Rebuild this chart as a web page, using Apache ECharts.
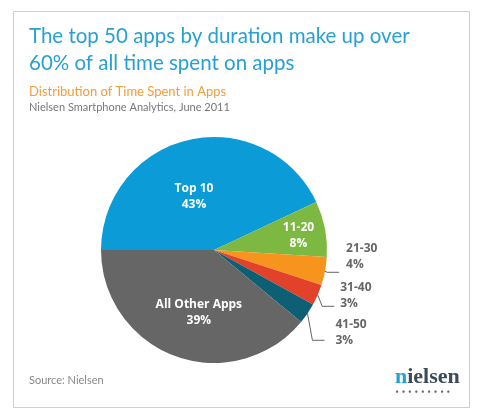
<!DOCTYPE html>
<html>
<head>
<meta charset="utf-8">
<script src="https://cdn.jsdelivr.net/npm/echarts@6/dist/echarts.min.js"></script>
<style>
  html, body { margin: 0; padding: 0; background: #fff; }
  #main { width: 489px; height: 417px; }
</style>
</head>
<body>
<div id="main"></div>
<script>
    // 数据
    var categories = ['Top 10', '11-20', '21-30', '31-40', '41-50', 'All Other Apps'];
    var shares = [43, 8, 4, 3, 3, 39];
    var colors = ['#0b9bd7', '#7cb842', '#f7941e', '#e2412a', '#0d5f74', '#666666'];
    var insideLabel = [true, true, false, false, false, true];

    var myChart = echarts.init(document.getElementById('main'));

    var pieData = categories.map(function (name, i) {
        var item = { name: name, value: shares[i], itemStyle: { color: colors[i] } };
        if (insideLabel[i]) {
            item.label = { position: 'inside', color: '#fff', fontWeight: 'bold', fontSize: 12, lineHeight: 16 };
            item.labelLine = { show: false };
        }
        return item;
    });

    // 标签微调
    var labelShift = {
        0: { dx: -7, dy: 5 },
        1: { dx: 26, dy: -3 },
        2: { dx: 2, dy: -16 },
        3: { dx: 1, dy: -11 },
        4: { dx: 6, dy: -8 },
        5: { dx: 5, dy: 7 }
    };

    var option = {
        backgroundColor: '#fff',
        textStyle: { fontFamily: 'Open Sans' },
        title: [{
            text: 'The top 50 apps by duration make up over\n60% of all time spent on apps',
            left: 24, top: 18,
            textStyle: { color: '#27a1d3', fontFamily: 'Lato', fontSize: 20.5, fontWeight: 'normal', lineHeight: 27 }
        }, {
            text: 'Distribution of Time Spent in Apps',
            left: 24, top: 80,
            textStyle: { color: '#f29d3c', fontFamily: 'Lato', fontSize: 13, fontWeight: 'normal' }
        }, {
            text: 'Nielsen Smartphone Analytics, June 2011',
            left: 24, top: 97,
            textStyle: { color: '#777', fontFamily: 'Lato', fontSize: 11, fontWeight: 'normal' }
        }, {
            text: 'Source: Nielsen',
            left: 24, top: 370,
            textStyle: { color: '#888', fontFamily: 'Lato', fontSize: 11, fontWeight: 'normal' }
        }, {
            text: '{n|n}{r|ielsen}\n{d|• • • • • • • • •}',
            left: 390, top: 361,
            textStyle: {
                rich: {
                    n: { fontFamily: 'Liberation Serif', fontSize: 22, color: '#27a1d3' },
                    r: { fontFamily: 'Liberation Serif', fontSize: 22, color: '#3d4a5c' },
                    d: { fontFamily: 'DejaVu Sans', fontSize: 6.5, color: '#666', lineHeight: 8 }
                }
            }
        }],
        graphic: [{
            type: 'rect',
            shape: { x: 13.5, y: 11.5, width: 456, height: 396 },
            style: { fill: 'none', stroke: '#cfcfcf', lineWidth: 1 },
            silent: true
        }],
        series: [{
            type: 'pie',
            center: [214, 250],
            radius: 113,
            startAngle: 180,
            clockwise: true,
            data: pieData,
            label: {
                show: true,
                formatter: '{b}\n{c}%',
                position: 'outside',
                color: '#666',
                fontWeight: 'bold',
                fontSize: 12,
                lineHeight: 16,
                alignTo: 'none'
            },
            labelLine: {
                show: true,
                length: 6,
                length2: 12,
                lineStyle: { color: '#666', width: 1 }
            },
            labelLayout: function (params) {
                return labelShift[params.dataIndex];
            },
            emphasis: { disabled: true }
        }]
    };

    myChart.setOption(option);
</script>
</body>
</html>
